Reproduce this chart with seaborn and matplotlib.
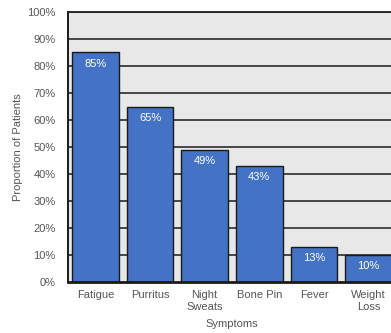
import matplotlib
matplotlib.use("Agg")
import matplotlib.pyplot as plt
import seaborn as sns
import pandas as pd

categories = ["Fatigue", "Purritus", "Night\nSweats", "Bone Pin", "Fever", "Weight\nLoss"]
values = [85, 65, 49, 43, 13, 10]
yticks = [0, 10, 20, 30, 40, 50, 60, 70, 80, 90, 100]

df = pd.DataFrame({"Symptoms": categories, "Proportion": values})

sns.set_theme(style="white")
plt.rcParams["font.family"] = ["Liberation Sans", "DejaVu Sans"]

fig = plt.figure(figsize=(3.91, 3.33), dpi=100)
W, H = 391, 333
ax = fig.add_axes([68 / W, 1 - 282 / H, 328 / W, 270 / H])
ax.set_facecolor("#e8e8e8")

sns.barplot(data=df, x="Symptoms", y="Proportion", ax=ax, color="#4472c4",
            saturation=1, width=0.85, edgecolor="#1a1a1a", linewidth=1.0, zorder=3)

for i, v in enumerate(values):
    ax.text(i, v - 2.4, f"{v}%", ha="center", va="top", color="white", fontsize=8, zorder=4)

ax.set_ylim(0, 100)
ax.set_xlim(-0.5, 5.5)
ax.set_yticks(yticks)
ax.set_yticklabels([f"{t}%" for t in yticks], color="#555555", fontsize=8)
ax.tick_params(axis="x", colors="#555555", labelsize=8, length=0, pad=6)
ax.tick_params(axis="y", length=0, pad=9)
for t in yticks[1:]:
    ax.axhline(t, color="#1a1a1a", lw=1.1, zorder=1)

ax.spines["right"].set_visible(False)
ax.spines["top"].set_color("#1a1a1a")
ax.spines["left"].set_color("#1a1a1a")
ax.spines["left"].set_linewidth(1.4)
ax.spines["bottom"].set_color("#1a1a1a")
ax.spines["bottom"].set_linewidth(2)
ax.spines["bottom"].set_zorder(5)

ax.set_xlabel("Symptoms", color="#555555", fontsize=8, labelpad=5)
ax.set_ylabel("Proportion of Patients", color="#555555", fontsize=8, labelpad=3)

fig.savefig("out.png", dpi=100)
